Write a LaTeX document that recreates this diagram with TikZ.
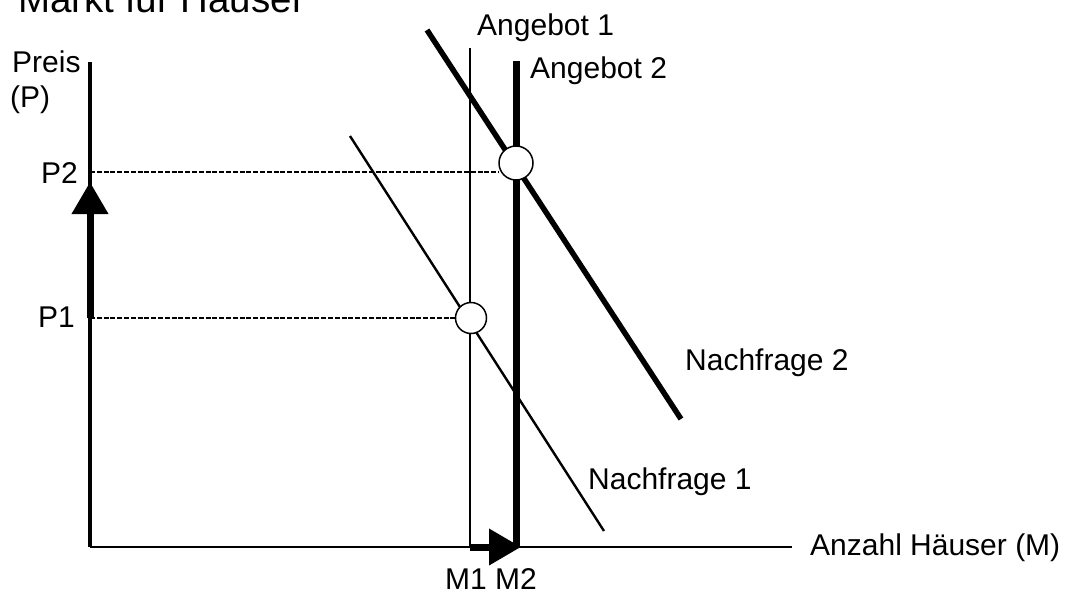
\documentclass[tikz,border=0pt]{standalone}
\usepackage{fontspec}
\setmainfont{Liberation Sans}
\usetikzlibrary{arrows.meta}

\tikzset{
  lbl/.style={anchor=base west, inner sep=0pt, font=\fontsize{30}{36}\selectfont},
  ttl/.style={anchor=base west, inner sep=0pt, font=\fontsize{38.5}{46}\selectfont},
  axis/.style={line width=#1, line cap=butt},
  guide/.style={line width=2pt, dash pattern=on 5pt off 1.8pt},
  eq/.style={circle, draw, line width=1.5pt, fill=white, inner sep=0pt, minimum size=#1},
  shift arrow/.style={line width=7pt, -{Triangle[width=35pt,length=32pt]}}
}

\begin{document}
\begin{tikzpicture}[x=1pt, y=-1pt]
  \useasboundingbox (0,0) rectangle (1066,592);
  \clip (0,0) rectangle (1066,592);

  % key points of the diagram
  \coordinate (O) at (90,547);
  \coordinate (ytop) at (90,62);
  \coordinate (xend) at (792,547);
  \coordinate (p1) at (90,318);
  \coordinate (p2) at (90,172);
  \coordinate (p2tip) at (90,182);
  \coordinate (s1top) at (470,48);
  \coordinate (s1bot) at (470,547);
  \coordinate (s2top) at (516,61);
  \coordinate (s2bot) at (516,547);
  \coordinate (d1a) at (350,136);
  \coordinate (d1b) at (604,531);
  \coordinate (d2a) at (427,30);
  \coordinate (d2b) at (681,419);
  \coordinate (m2tip) at (521,547);

  % title
  \node[ttl] (title) at (18,12) {Markt für Häuser};

  % axes
  \draw[axis=4pt] (ytop) -- (O);
  \draw[axis=2pt] (O) -- (xend);

  % supply curves
  \draw[axis=2.6pt] (s1top) -- (s1bot);
  \draw[axis=7pt] (s2top) -- (s2bot);

  % demand curves
  \draw[line width=2.4pt] (d1a) -- (d1b);
  \draw[line width=5.5pt] (d2a) -- (d2b);

  % equilibria
  \node[eq=31pt] (e1) at (471,318) {};
  \node[eq=34pt] (e2) at (516,163) {};

  % price guides
  \draw[guide] (p1) -- (e1.west);
  \draw[guide] (p2) -- (e2.west |- p2);

  % shifts of price and quantity
  \draw[shift arrow] (p1) -- (p2tip);
  \draw[shift arrow] (s1bot) -- (m2tip);

  % labels
  \node[lbl] (preis) at (12,72) {Preis};
  \node[lbl] (pp) at (10,107) {(P)};
  \node[lbl] (lp2) at (41,183) {P2};
  \node[lbl] (lp1) at (38,327) {P1};
  \node[lbl] (ls1) at (477,35) {Angebot 1};
  \node[lbl] (ls2) at (530,78) {Angebot 2};
  \node[lbl] (ld2) at (685,370) {Nachfrage 2};
  \node[lbl] (ld1) at (588,489) {Nachfrage 1};
  \node[lbl] (lx) at (810,555) {Anzahl Häuser (M)};
  \node[lbl] (lm) at (445,589) {M1 M2};
\end{tikzpicture}
\end{document}
